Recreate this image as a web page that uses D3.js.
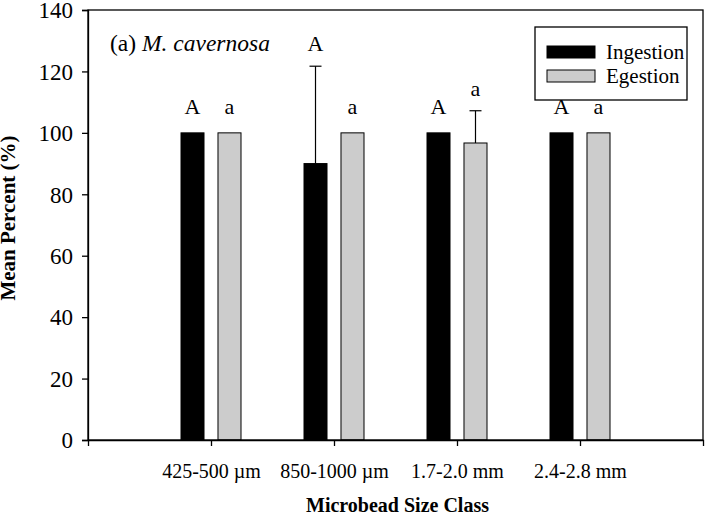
<!DOCTYPE html>
<html>
<head>
<meta charset="utf-8">
<script src="https://cdn.jsdelivr.net/npm/d3@7"></script>
<style>
  html, body { margin: 0; padding: 0; background: #fff; }
  svg text { font-family: "Liberation Serif", "Times New Roman", serif; fill: #000; }
</style>
</head>
<body>
<div id="chart"></div>
<script>
// ---- data ----
const categories = ["425-500 µm", "850-1000 µm", "1.7-2.0 mm", "2.4-2.8 mm"];
const seriesNames = ["Ingestion", "Egestion"];
const ingestion = [100, 90, 100, 100];
const egestion = [100, 100, 96.7, 100];
const ingestionErr = [0, 31.7, 0, 0];
const egestionErr = [0, 0, 10.5, 0];
const ingestionLetters = ["A", "A", "A", "A"];
const egestionLetters = ["a", "a", "a", "a"];
const yTicks = [0, 20, 40, 60, 80, 100, 120, 140];

const FONT = "'Liberation Serif', 'Times New Roman', serif";
const W = 705, H = 516;
const m = { left: 88, top: 10, right: 2, bottom: 76 };
const x0 = m.left, x1 = W - m.right, y0 = H - m.bottom, y1 = m.top;

const svg = d3.select("#chart").append("svg").attr("width", W).attr("height", H)
  .style("font-family", FONT);

const y = d3.scaleLinear().domain([0, 140]).range([y0, y1]);
// categories sit at positions 1..4 of 0..5
const xPos = d3.scaleLinear().domain([0, categories.length + 1]).range([x0, x1]);
const xc = i => xPos(i + 1);
const inner = d3.scaleBand().domain(seriesNames).range([-30, 30]).paddingInner(0.378).paddingOuter(0);

const series = [
  { name: "Ingestion", values: ingestion, err: ingestionErr, letters: ingestionLetters, fill: "#000000" },
  { name: "Egestion", values: egestion, err: egestionErr, letters: egestionLetters, fill: "#cccccc" }
];

// bars
series.forEach(s => {
  const g = svg.append("g");
  g.selectAll("rect").data(s.values).join("rect")
    .attr("x", (d, i) => xc(i) + inner(s.name))
    .attr("y", d => y(d))
    .attr("width", inner.bandwidth())
    .attr("height", d => y(0) - y(d))
    .attr("fill", s.fill)
    .attr("stroke", "#000").attr("stroke-width", 1);
  // error bars (upper only)
  s.values.forEach((v, i) => {
    const e = s.err[i];
    const cx = xc(i) + inner(s.name) + inner.bandwidth() / 2;
    if (e > 0) {
      g.append("line").attr("x1", cx).attr("x2", cx).attr("y1", y(v)).attr("y2", y(v + e))
        .attr("stroke", "#000").attr("stroke-width", 1.2);
      g.append("line").attr("x1", cx - 6).attr("x2", cx + 6).attr("y1", y(v + e)).attr("y2", y(v + e))
        .attr("stroke", "#000").attr("stroke-width", 1.2);
    }
    const top = y(v + e);
    g.append("text").attr("x", cx).attr("y", top - (e > 0 ? 15 : 19))
      .attr("text-anchor", "middle").attr("font-family", FONT).attr("font-size", 22).text(s.letters[i]);
  });
});

// frame
svg.append("rect").attr("x", x0).attr("y", y1).attr("width", x1 - x0).attr("height", y0 - y1)
  .attr("fill", "none").attr("stroke", "#000").attr("stroke-width", 1.3);

// y axis
const yAxis = d3.axisLeft(y).tickValues(yTicks).tickSize(6).tickPadding(9).tickFormat(d3.format("d"));
const gy = svg.append("g").attr("transform", `translate(${x0},0)`).call(yAxis)
  .attr("font-family", FONT).attr("font-size", 23);
gy.select(".domain").attr("stroke-width", 1.3);
gy.selectAll(".tick line").attr("stroke-width", 1.3);
gy.selectAll(".tick text").attr("font-family", FONT).attr("font-size", 23).attr("dy", "0.34em");

// x axis
const xAxis = d3.axisBottom(xPos).tickValues(categories.map((c, i) => i + 1))
  .tickFormat((d) => categories[d - 1]).tickSize(6).tickPadding(18);
const gx = svg.append("g").attr("transform", `translate(0,${y0})`).call(xAxis)
  .attr("font-family", FONT).attr("font-size", 20);
gx.select(".domain").attr("stroke-width", 1.3);
gx.selectAll(".tick line").attr("stroke-width", 1.3);
gx.selectAll(".tick text").attr("font-family", FONT).attr("font-size", 20);

// axis titles
svg.append("text").attr("x", (x0 + x1) / 2 + 2).attr("y", 512).attr("text-anchor", "middle")
  .attr("font-family", FONT).attr("font-weight", "bold").attr("font-size", 20).text("Microbead Size Class");
svg.append("text").attr("transform", "translate(15,218) rotate(-90)").attr("text-anchor", "middle")
  .attr("font-family", FONT).attr("font-weight", "bold").attr("font-size", 21).text("Mean Percent (%)");

// panel annotation
const ann = svg.append("text").attr("x", 110).attr("y", 51).attr("font-family", FONT).attr("font-size", 23.5);
ann.append("tspan").text("(a) ");
ann.append("tspan").attr("font-style", "italic").text("M. cavernosa");

// legend
const lg = svg.append("g");
lg.append("rect").attr("x", 535).attr("y", 27).attr("width", 152).attr("height", 73)
  .attr("fill", "#fff").attr("stroke", "#000").attr("stroke-width", 1.3);
series.forEach((s, i) => {
  lg.append("rect").attr("x", 547).attr("y", 46 + i * 24).attr("width", 48).attr("height", 12)
    .attr("fill", s.fill).attr("stroke", "#000").attr("stroke-width", 1);
  lg.append("text").attr("x", 606).attr("y", 59 + i * 24).attr("font-family", FONT)
    .attr("font-size", 21).text(s.name);
});
</script>
</body>
</html>
